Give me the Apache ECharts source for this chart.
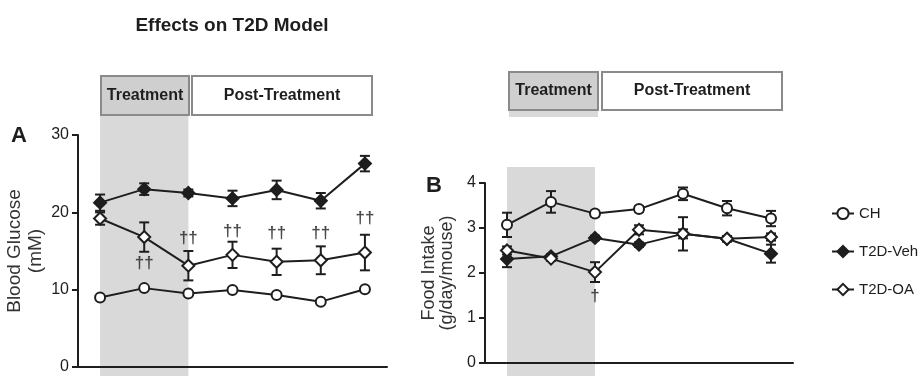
<!DOCTYPE html>
<html><head><meta charset="utf-8">
<script src="https://cdn.jsdelivr.net/npm/echarts@6/dist/echarts.min.js"></script>
<style>html,body{margin:0;padding:0;background:#fff}#c{width:924px;height:376px}</style>
</head><body><div id="c"></div>
<script>
// ---- data ----
const weeks = ['1','2','3','4','5','6','7'];
const glucoseCH = [9.0, 10.2, 9.5, 9.95, 9.3, 8.45, 10.05];
const glucoseVeh = [21.25, 23.0, 22.5, 21.8, 22.9, 21.5, 26.3];
const glucoseVehErr = [1.05, 0.75, 0.45, 1.0, 1.2, 1.0, 1.0];
const glucoseOA = [19.2, 16.8, 13.1, 14.5, 13.6, 13.8, 14.8];
const glucoseOAErr = [0.8, 1.9, 1.9, 1.7, 1.7, 1.8, 2.3];
const glucoseDaggers = [[1, 13.4, '††'], [2, 16.6, '††'], [3, 17.5, '††'], [4, 17.3, '††'], [5, 17.3, '††'], [6, 19.2, '††']];
const foodCH = [3.07, 3.58, 3.32, 3.42, 3.76, 3.44, 3.21];
const foodCHErr = [0.27, 0.24, 0.06, 0.06, 0.14, 0.16, 0.17];
const foodVeh = [2.31, 2.37, 2.78, 2.63, 2.87, 2.76, 2.43];
const foodVehErr = [0.18, 0.05, 0.05, 0.05, 0.1, 0.06, 0.2];
const foodOA = [2.50, 2.32, 2.02, 2.96, 2.87, 2.76, 2.80];
const foodOAErr = [0.09, 0.05, 0.22, 0.1, 0.37, 0.06, 0.08];
const foodDaggers = [[2, 1.48, '†']];
const treatmentRange = [0, 2];
const seriesNames = ['CH', 'T2D-Veh', 'T2D-OA'];

// ---- styles ----
const REG = '"Liberation Sans", Arial, sans-serif';
const INK = '#1e1e1e';
const SHADE = '#d9d9d9';

const chart = echarts.init(document.getElementById('c'));

function withIdx(arr, err) { return arr.map((v, i) => [i, v, err ? err[i] : 0]); }

function errSeries(xi, yi, vals, errs) {
  return {
    type: 'custom', xAxisIndex: xi, yAxisIndex: yi, z: 2, silent: true,
    data: withIdx(vals, errs),
    renderItem: function (params, api) {
      const i = api.value(0), m = api.value(1), e = api.value(2);
      const top = api.coord([i, m + e]), bot = api.coord([i, m - e]);
      const w = 5;
      const st = { stroke: INK, lineWidth: 2 };
      return { type: 'group', children: [
        { type: 'line', shape: { x1: top[0], y1: top[1], x2: bot[0], y2: bot[1] }, style: st },
        { type: 'line', shape: { x1: top[0] - w, y1: top[1], x2: top[0] + w, y2: top[1] }, style: st },
        { type: 'line', shape: { x1: bot[0] - w, y1: bot[1], x2: bot[0] + w, y2: bot[1] }, style: st }
      ]};
    }
  };
}
function shadeSeries(xi, yi, topPx) {
  return {
    type: 'custom', xAxisIndex: xi, yAxisIndex: yi, z: 0, silent: true, clip: false,
    data: [[treatmentRange[0], treatmentRange[1]]],
    renderItem: function (params, api) {
      const x0 = api.coord([api.value(0), 0])[0];
      const x1 = api.coord([treatmentRange[1], 0])[0];
      return { type: 'rect', shape: { x: x0, y: topPx, width: x1 - x0, height: 376 - topPx }, style: { fill: SHADE } };
    }
  };
}
function lineSeries(name, xi, yi, vals, symbol, filled) {
  return {
    name: name, type: 'line', xAxisIndex: xi, yAxisIndex: yi, z: 3,
    data: vals, symbol: symbol, symbolSize: symbol === 'diamond' ? 12 : 10,
    showSymbol: true,
    lineStyle: { color: INK, width: 2 },
    itemStyle: { color: filled ? INK : '#fff', borderColor: INK, borderWidth: 2 },
    emphasis: { disabled: true }
  };
}
function daggerSeries(xi, yi, data) {
  return {
    type: 'scatter', xAxisIndex: xi, yAxisIndex: yi, z: 4, silent: true,
    symbolSize: 1, itemStyle: { color: 'rgba(0,0,0,0)' },
    data: data,
    label: { show: true, position: 'inside', formatter: p => p.value[2], fontFamily: REG, fontSize: 17, fontWeight: 'bold', color: INK }
  };
}

const xAxisBase = {
  type: 'category', data: weeks, boundaryGap: true,
  axisLine: { lineStyle: { color: INK, width: 2 } },
  axisTick: { alignWithLabel: true, length: 9, lineStyle: { color: INK, width: 2 } },
  axisLabel: { show: false }, splitLine: { show: false }
};
function yAxis(max, interval, name, gap, fs, lh) {
  return {
    type: 'value', min: 0, max: max, interval: interval,
    axisLine: { show: true, lineStyle: { color: INK, width: 2 } },
    axisTick: { show: true, length: 6, lineStyle: { color: INK, width: 2 } },
    axisLabel: { color: INK, fontFamily: REG, fontSize: 16, margin: 9 },
    splitLine: { show: false },
    name: name, nameLocation: 'middle', nameRotate: 90, nameGap: gap,
    nameTextStyle: { color: '#333', fontFamily: REG, fontSize: fs, lineHeight: lh }
  };
}

function box(x, y, w, h, fill, text) {
  return [
    { type: 'rect', shape: { x: x, y: y, width: w, height: h }, style: { fill: fill, stroke: '#8a8a8a', lineWidth: 2 }, z: 10 },
    { type: 'text', x: x + w / 2, y: y + h / 2, style: { text: text, fill: INK, font: 'bold 16px ' + REG, textAlign: 'center', textVerticalAlign: 'middle' }, z: 11 }
  ];
}

chart.setOption({
  animation: false,
  backgroundColor: '#fff',
  grid: [
    { left: 78, right: 537, top: 135, bottom: 9, outerBoundsMode: 'none', containLabel: false },
    { left: 485, right: 131, top: 183, bottom: 13, outerBoundsMode: 'none', containLabel: false }
  ],
  xAxis: [Object.assign({ gridIndex: 0 }, xAxisBase), Object.assign({ gridIndex: 1 }, xAxisBase)],
  yAxis: [
    Object.assign({ gridIndex: 0 }, yAxis(30, 10, 'Blood Glucose\n(mM)', 32, 19, 21)),
    Object.assign({ gridIndex: 1 }, yAxis(4, 1, 'Food Intake\n(g/day/mouse)', 29, 18, 18))
  ],
  legend: {
    orient: 'vertical', left: 826, top: 201, itemGap: 23,
    itemWidth: 22, itemHeight: 14,
    data: seriesNames,
    textStyle: { color: INK, fontFamily: REG, fontSize: 15 },
    selectedMode: false
  },
  graphic: [
    { type: 'text', x: 232, y: 26, style: { text: 'Effects on T2D Model', fill: INK, font: 'bold 19px ' + REG, textAlign: 'center', textVerticalAlign: 'middle' } },
    { type: 'text', x: 19, y: 136, style: { text: 'A', fill: INK, font: 'bold 22px ' + REG, textAlign: 'center', textVerticalAlign: 'middle' } },
    { type: 'text', x: 434, y: 186, style: { text: 'B', fill: INK, font: 'bold 22px ' + REG, textAlign: 'center', textVerticalAlign: 'middle' } },
    { type: 'rect', shape: { x: 509, y: 110, width: 89, height: 7 }, style: { fill: SHADE }, z: 1 }
  ].concat(box(101, 76, 88, 39, '#cfcfcf', 'Treatment'), box(192, 76, 180, 39, '#fff', 'Post-Treatment'),
           box(509, 72, 89, 38, '#cfcfcf', 'Treatment'), box(602, 72, 180, 38, '#fff', 'Post-Treatment')),
  series: [
    shadeSeries(0, 0, 76),
    shadeSeries(1, 1, 167),
    errSeries(0, 0, glucoseVeh, glucoseVehErr),
    errSeries(0, 0, glucoseOA, glucoseOAErr),
    lineSeries('CH', 0, 0, glucoseCH, 'circle', false),
    lineSeries('T2D-Veh', 0, 0, glucoseVeh, 'diamond', true),
    lineSeries('T2D-OA', 0, 0, glucoseOA, 'diamond', false),
    daggerSeries(0, 0, glucoseDaggers),
    errSeries(1, 1, foodCH, foodCHErr),
    errSeries(1, 1, foodVeh, foodVehErr),
    errSeries(1, 1, foodOA, foodOAErr),
    lineSeries('CH', 1, 1, foodCH, 'circle', false),
    lineSeries('T2D-Veh', 1, 1, foodVeh, 'diamond', true),
    lineSeries('T2D-OA', 1, 1, foodOA, 'diamond', false),
    daggerSeries(1, 1, foodDaggers)
  ]
});
</script></body></html>
